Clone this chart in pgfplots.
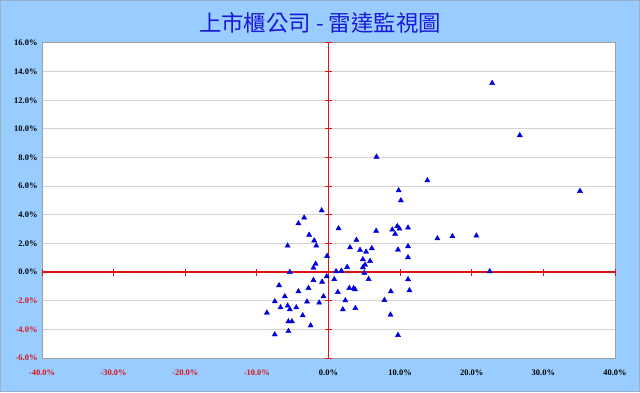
\documentclass[border=0pt]{standalone}
\usepackage{fontspec}
\setmainfont{Liberation Serif}
\newfontfamily\cjk{Noto Sans CJK TC}
\usepackage{pgfplots}
\pgfplotsset{compat=1.18}
\definecolor{bgblue}{RGB}{153,204,255}
\definecolor{titleblue}{RGB}{25,25,215}
\definecolor{axred}{RGB}{220,20,20}
\definecolor{ptblue}{RGB}{0,0,220}
\definecolor{gridgray}{RGB}{210,210,210}
\definecolor{framegray}{RGB}{160,160,160}
\newcommand{\rd}[1]{\textcolor{axred}{#1}}
\begin{document}
\begin{tikzpicture}[x=1bp,y=1bp]
\fill[bgblue] (0,0) rectangle (640,392);
\draw[framegray!60!bgblue, line width=1bp] (0.5,0.5) rectangle (639.5,391.5);
\node[font=\cjk\fontsize{22.5}{24}\selectfont, text=titleblue] at (320,369) {上市櫃公司 - 雷達監視圖};
\begin{axis}[
  at={(42bp,34bp)}, anchor=south west,
  width=573bp, height=315bp, scale only axis,
  xmin=-40, xmax=40, ymin=-6, ymax=16,
  clip=false,
  axis background/.style={fill=white},
  axis line style={draw=framegray, line width=1bp},
  major tick length=0pt,
  ymajorgrids, grid style={gridgray, line width=1bp},
  xtick={-40,-30,-20,-10,0,10,20,30,40},
  xticklabels={\rd{-40.0\%},\rd{-30.0\%},\rd{-20.0\%},\rd{-10.0\%},0.0\%,10.0\%,20.0\%,30.0\%,40.0\%},
  ytick={-6,-4,-2,0,2,4,6,8,10,12,14,16},
  yticklabels={\rd{-6.0\%},\rd{-4.0\%},\rd{-2.0\%},0.0\%,2.0\%,4.0\%,6.0\%,8.0\%,10.0\%,12.0\%,14.0\%,16.0\%},
  ticklabel style={font=\bfseries\fontsize{8.5}{10}\selectfont},
  xticklabel style={yshift=-8bp},
  yticklabel style={xshift=-1bp},
]
\addplot[axred, line width=1.3bp] coordinates {(-40,0) (40,0)};
\addplot[axred, line width=1.3bp] coordinates {(0,-6) (0,16)};
\addplot[axred, only marks, mark=|, mark size=3.5bp, mark options={line width=1bp}] coordinates {
(-40,0) (-30,0) (-20,0) (-10,0) (10,0) (20,0) (30,0) (40,0)};
\addplot[axred, only marks, mark=-, mark size=3.5bp, mark options={line width=1bp}] coordinates {
(0,-6) (0,-4) (0,-2) (0,2) (0,4) (0,6) (0,8) (0,10) (0,12) (0,14) (0,16)};
\addplot[only marks, mark=triangle*, mark size=3bp, ptblue, mark options={fill=ptblue, draw=ptblue}] coordinates {
(13.8,6.4) (9.8,5.7) (10.1,5.0) (-0.95,4.3) (-3.4,3.8) (-4.2,3.4) (1.4,3.05) (6.65,2.87)
(8.9,2.96) (9.6,3.2) (9.9,3.03) (9.3,2.66) (11.1,3.1) (-2.7,2.6) (-2.0,2.2) (-1.7,1.84)
(-5.7,1.84) (3.9,2.24) (3.0,1.72) (4.4,1.54) (5.25,1.42) (6.05,1.66) (9.7,1.56) (11.1,1.8)
(11.1,1.03) (-0.2,1.12) (-1.8,0.58) (-2.1,0.3) (4.8,0.89) (5.8,0.77) (5.1,0.51) (4.8,0.33)
(2.6,0.35) (1.8,0.09) (1.05,0.05) (-5.4,0.0) (5.0,-0.05) (-0.25,-0.3) (0.8,-0.5) (-2.1,-0.56)
(-0.9,-0.68) (5.6,-0.49) (11.1,-0.51) (11.3,-1.28) (8.7,-1.35) (-6.9,-0.93) (-2.8,-1.12) (-4.2,-1.35)
(2.9,-1.12) (3.5,-1.14) (3.7,-1.21) (1.3,-1.4) (-6.1,-1.7) (-0.7,-1.7) (-7.5,-2.05) (-3.0,-2.07)
(-1.3,-2.14) (2.35,-1.98) (7.8,-1.96) (-6.7,-2.47) (-5.7,-2.35) (-5.4,-2.61) (-4.5,-2.47) (-8.6,-2.84)
(-3.6,-3.03) (2.0,-2.61) (3.75,-2.52) (8.65,-2.98) (-5.6,-3.45) (-5.1,-3.45) (-2.5,-3.73) (-7.5,-4.36)
(-5.6,-4.13) (9.7,-4.4)
(6.7,8.05) (22.85,13.2) (26.7,9.55) (35.1,5.66) (15.2,2.35) (17.3,2.5) (20.65,2.54) (22.5,0.05)
};
\end{axis}
\end{tikzpicture}
\end{document}
